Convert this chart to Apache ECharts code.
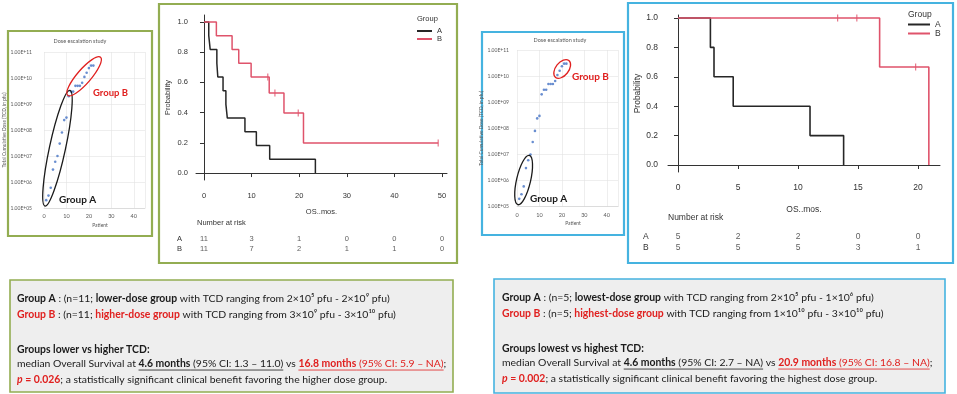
<!DOCTYPE html>
<html><head><meta charset="utf-8">
<script src="https://cdn.jsdelivr.net/npm/echarts@6/dist/echarts.min.js"></script>
<style>html,body{margin:0;padding:0;background:#fff}#c{width:957px;height:394px}</style>
</head><body><div id="c"></div>
<script>
// ================= DATA =================
const patients = [1,2,3,4,5,6,7,8,9,10,11,12,13,14,15,16,17,18,19,20,21,22];
const doseTCD = [2e5,3e5,6e5,3e6,6e6,1e7,3e7,8e7,2.4e8,3e8,2e9,3e9,3e9,5e9,5e9,5e9,6.5e9,1.1e10,1.6e10,2.4e10,3e10,3e10];
const doseExpTicks = [5,6,7,8,9,10,11];
const patientTicks = [0,10,20,30,40];
// patient ranges of the circled groups
const groupLeftA = [1,11], groupLeftB = [12,22];
const groupRightA = [1,5], groupRightB = [18,22];

// Left Kaplan-Meier (lower vs higher TCD)
const kmLeftTimesA = [0,1.0,1.3,2.7,2.9,4.0,4.6,4.9,8.6,11.0,13.8,23.4];
const kmLeftSurvA  = [1,0.909,0.818,0.727,0.636,0.545,0.455,0.364,0.273,0.182,0.091,0];
const kmLeftTimesB = [0,2.6,5.9,7.3,9.9,13.7,16.8,20.9,49.2];
const kmLeftSurvB  = [1,0.909,0.818,0.727,0.636,0.530,0.398,0.199,0.199];
const kmLeftCensTimesB = [13.4,14.9,19.8,49.2];
const kmLeftCensSurvB  = [0.636,0.530,0.398,0.199];
const riskLeftTimes = [0,10,20,30,40,50];
const riskLeftA = [11,3,1,0,0,0];
const riskLeftB = [11,7,2,1,1,0];

// Right Kaplan-Meier (lowest vs highest TCD)
const kmRightTimesA = [0,2.7,3.0,4.6,11.0,13.8];
const kmRightSurvA  = [1,0.8,0.6,0.4,0.2,0];
const kmRightTimesB = [0,16.8,20.9];
const kmRightSurvB  = [1,0.667,0];
const kmRightCensTimesB = [13.3,14.9,19.8];
const kmRightCensSurvB  = [1,1,0.667];
const riskRightTimes = [0,5,10,15,20];
const riskRightA = [5,2,2,0,0];
const riskRightB = [5,5,5,3,1];

const probTicks = [0,0.2,0.4,0.6,0.8,1.0];
const groupNames = ['A','B'];

// text boxes: [text, codes] b=bold r=red u=underline i=italic
const textLeft = [
  [['Group A','b'],[' : (n=11; ',''],['lower-dose group','b'],[' with TCD ranging from 2×10⁵ pfu - 2×10⁹ pfu)','']],
  [['Group B','br'],[' : (n=11; ',''],['higher-dose group','br'],[' with TCD ranging from 3×10⁹ pfu - 3×10¹⁰ pfu)','']],
  [['Groups lower vs higher TCD:','b']],
  [['median Overall Survival at ',''],['4.6 months','bu'],[' (95% CI: 1.3 – 11.0)','u'],[' vs ',''],['16.8 months','bru'],[' (95% CI: 5.9 – NA)','ru'],[';','']],
  [['p','bri'],[' = 0.026','br'],['; a statistically significant clinical benefit favoring the higher dose group.','']]
];
const textRight = [
  [['Group A','b'],[' : (n=5; ',''],['lowest-dose group','b'],[' with TCD ranging from 2×10⁵ pfu - 1×10⁶ pfu)','']],
  [['Group B','br'],[' : (n=5; ',''],['highest-dose group','br'],[' with TCD ranging from 1×10¹⁰ pfu - 3×10¹⁰ pfu)','']],
  [['Groups lowest vs highest TCD:','b']],
  [['median Overall Survival at ',''],['4.6 months','bu'],[' (95% CI: 2.7 – NA)','u'],[' vs ',''],['20.9 months','bru'],[' (95% CI: 16.8 – NA)','ru'],[';','']],
  [['p','bri'],[' = 0.002','br'],['; a statistically significant clinical benefit favoring the highest dose group.','']]
];

// ================= STYLE / BUILD =================
const FONT_R = "'Liberation Sans', Arial, sans-serif";
const FONT_C = "Lato, 'Open Sans', sans-serif";
const BLACK = '#262626', RED = '#DF536B', AX = '#333333';
const GREEN = '#93ad52', BLUE = '#45b3e0';
const TXT = '#1a1a1a', TRED = '#e0201f';
const XL = '#595959';

const chart = echarts.init(document.getElementById('c'));
const kmData = (t, s) => t.map((v, i) => [v, s[i]]);
const lg = v => Math.log10(v);

function ellipseSeries(xi, yi, ranges, colors, pads, halfW) {
  return {
    type: 'custom', xAxisIndex: xi, yAxisIndex: yi, clip: false, silent: true, z: 3,
    data: ranges.map(r => [r[0], r[1]]),
    renderItem: function (params, api) {
      const i = params.dataIndex;
      const a = api.value(0), b = api.value(1);
      const p0 = api.coord([a, lg(doseTCD[a - 1])]);
      const p1 = api.coord([b, lg(doseTCD[b - 1])]);
      const dx = p1[0] - p0[0], dy = p1[1] - p0[1];
      const len = Math.sqrt(dx * dx + dy * dy);
      const ux = dx / len, uy = dy / len;
      const s = [p0[0] - ux * pads[i][0], p0[1] - uy * pads[i][0]];
      const e = [p1[0] + ux * pads[i][1], p1[1] + uy * pads[i][1]];
      const cx = (s[0] + e[0]) / 2, cy = (s[1] + e[1]) / 2;
      const rx = (len + pads[i][0] + pads[i][1]) / 2;
      return {
        type: 'ellipse', x: cx, y: cy, rotation: -Math.atan2(dy, dx),
        shape: { cx: 0, cy: 0, rx: rx, ry: halfW[i] },
        style: { fill: 'none', stroke: colors[i], lineWidth: 1.3 }
      };
    }
  };
}

function scatterAxes(gi, labelMargin, yLabelMargin, nameGap) {
  const x = {
    gridIndex: gi, type: 'value', min: 0, max: 45, interval: 10,
    axisLabel: { fontSize: 5.5, color: XL, margin: labelMargin, fontFamily: FONT_C, showMaxLabel: false,
      formatter: v => (patientTicks.indexOf(v) >= 0 ? String(v) : '') },
    axisLine: { lineStyle: { color: '#d0d0d0', width: 0.6 } }, axisTick: { show: false },
    splitLine: { lineStyle: { color: '#e2e2e2', width: 0.6 } }
  };
  const y = {
    gridIndex: gi, type: 'value', min: doseExpTicks[0], max: doseExpTicks[doseExpTicks.length - 1], interval: 1,
    axisLabel: { fontSize: 5, color: XL, margin: yLabelMargin, fontFamily: FONT_C,
      formatter: v => '1.00E+' + String(v).padStart(2, '0') },
    axisLine: { show: false }, axisTick: { show: false },
    splitLine: { lineStyle: { color: '#e2e2e2', width: 0.6 } },
    name: 'Total Cumulative Dose (TCD, in pfu)', nameLocation: 'middle', nameGap: nameGap,
    nameTextStyle: { fontSize: 4.8, color: XL, fontFamily: FONT_C }
  };
  return [x, y];
}

function kmAxes(gi, xmin, xmax, xticks, ymin, ymax, fs, xMargin, yMargin, xNameGap, yNameGap) {
  const x = {
    gridIndex: gi, type: 'value', min: xmin, max: xmax,
    axisLine: { lineStyle: { color: AX, width: 1 } },
    axisTick: { length: 4, customValues: xticks, lineStyle: { color: AX } },
    axisLabel: { customValues: xticks, fontSize: fs, margin: xMargin, color: AX, fontFamily: FONT_R },
    splitLine: { show: false },
    name: 'OS..mos.', nameLocation: 'middle', nameGap: xNameGap,
    nameTextStyle: { fontSize: fs, color: AX, fontFamily: FONT_R }
  };
  const y = {
    gridIndex: gi, type: 'value', min: ymin, max: ymax,
    axisLine: { show: true, lineStyle: { color: AX, width: 1 } },
    axisTick: { show: true, length: 4, customValues: probTicks, lineStyle: { color: AX } },
    axisLabel: { customValues: probTicks, fontSize: fs, margin: yMargin, color: AX, fontFamily: FONT_R,
      formatter: v => v.toFixed(1) },
    splitLine: { show: false },
    name: 'Probability', nameLocation: 'middle', nameGap: yNameGap,
    nameTextStyle: { fontSize: fs, color: AX, fontFamily: FONT_R }
  };
  return [x, y];
}

function riskAxes(gi, xmin, xmax, fs, margin) {
  return [
    { gridIndex: gi, type: 'value', min: xmin, max: xmax, show: false },
    { gridIndex: gi, type: 'category', data: groupNames, inverse: true,
      axisLine: { show: false }, axisTick: { show: false }, splitLine: { show: false },
      axisLabel: { interval: 0, hideOverlap: false, align: 'left', margin: margin, fontSize: fs, color: AX, fontFamily: FONT_R } }
  ];
}

function riskSeries(gi, times, vals, name, fs) {
  return {
    type: 'scatter', name: 'risk ' + name, xAxisIndex: gi, yAxisIndex: gi, silent: true,
    symbolSize: 1, itemStyle: { color: 'rgba(0,0,0,0)' },
    data: times.map((t, i) => [t, name, vals[i]]),
    label: { show: true, position: 'inside', formatter: p => String(p.value[2]),
      fontSize: fs, color: AX, fontFamily: FONT_R }
  };
}

const axL0 = scatterAxes(0, 5, 12, 21);
const axL1 = kmAxes(1, -1.68, 51.05, riskLeftTimes, -0.046, 1.046, 7.5, 12, 8, 28, 24);
const axL2 = riskAxes(2, -1.68, 51.05, 7.5, 19);
const axR0 = scatterAxes(3, 6, 8, 24);
const axR1 = kmAxes(4, -0.833, 21.83, riskRightTimes, -0.0476, 1.0204, 8.5, 11.5, 10, 33, 25);
const axR2 = riskAxes(5, -0.833, 21.83, 8.5, 25);

// ---------- text boxes ----------
const mctx = document.createElement('canvas').getContext('2d');
function segFont(code, size) {
  return (code.includes('i') ? 'italic ' : '') + (code.includes('b') ? 'bold ' : '') + size + 'px ' + FONT_C;
}
function lineWidth(segs, size) {
  let w = 0;
  segs.forEach(([t, c]) => { mctx.font = segFont(c, size); w += mctx.measureText(t).width; });
  return w;
}
function buildText(lines, x0, rowYs, size) {
  const els = [];
  lines.forEach((segs, li) => {
    let x = x0; const y = rowYs[li];
    segs.forEach(([t, c]) => {
      mctx.font = segFont(c, size);
      const w = mctx.measureText(t).width;
      const col = c.includes('r') ? TRED : TXT;
      els.push({ type: 'text', x: x, y: y, z: 10, silent: true,
        style: { text: t, fill: col, fontSize: size, fontFamily: FONT_C,
          fontWeight: c.includes('b') ? 'bold' : 'normal', fontStyle: c.includes('i') ? 'italic' : 'normal',
          align: 'left', verticalAlign: 'middle', textAlign: 'left', textVerticalAlign: 'middle' } });
      if (c.includes('u')) {
        const uy = y + size * 0.58;
        els.push({ type: 'line', z: 10, silent: true, shape: { x1: x, y1: uy, x2: x + w, y2: uy },
          style: { stroke: col, lineWidth: 0.8 } });
      }
      x += w;
    });
  });
  return els;
}
const sizeL = 10 * 430 / lineWidth(textLeft[3], 10);
const sizeR = 10 * 431 / lineWidth(textRight[3], 10);

function txt(x, y, s, opt) {
  return Object.assign({ type: 'text', x: x, y: y, z: 10, silent: true,
    style: Object.assign({ text: s, align: 'left', verticalAlign: 'middle', textAlign: 'left', textVerticalAlign: 'middle' }, opt) });
}
function box(x, y, w, h, stroke, fill, lw) {
  return { type: 'rect', z: 0, silent: true, shape: { x: x, y: y, width: w, height: h },
    style: { fill: fill || 'none', stroke: stroke, lineWidth: lw } };
}

const graphics = [
  box(8, 31, 144, 205, GREEN, null, 2.2),
  box(159, 4, 298, 259, GREEN, null, 2.2),
  box(482, 32, 142, 203, BLUE, null, 2.2),
  box(628, 3, 325, 260, BLUE, null, 2.2),
  box(10, 280, 443, 112, GREEN, '#eeeeee', 1.6),
  box(494, 279, 451, 114, BLUE, '#eeeeee', 1.6),
  // scatter titles and labels
  txt(80, 41, 'Dose escalation study', { fontSize: 5.5, fill: XL, fontFamily: FONT_C, align: 'center', textAlign: 'center' }),
  txt(560, 40, 'Dose escalation study', { fontSize: 5.5, fill: XL, fontFamily: FONT_C, align: 'center', textAlign: 'center' }),
  txt(100, 225, 'Patient', { fontSize: 5, fill: XL, fontFamily: FONT_C, align: 'center', textAlign: 'center' }),
  txt(573, 223, 'Patient', { fontSize: 5, fill: XL, fontFamily: FONT_C, align: 'center', textAlign: 'center' }),
  txt(93, 93, 'Group B', { fontSize: 9.5, fill: '#e0201f', fontWeight: 'bold', fontFamily: FONT_C }),
  txt(59, 200, 'Group A', { fontSize: 10, fill: '#1a1a1a', fontWeight: 'bold', fontFamily: FONT_C }),
  txt(572, 77, 'Group B', { fontSize: 10, fill: '#e0201f', fontWeight: 'bold', fontFamily: FONT_C }),
  txt(530, 199, 'Group A', { fontSize: 10, fill: '#1a1a1a', fontWeight: 'bold', fontFamily: FONT_C }),
  // KM legend titles and risk titles
  txt(417, 19, 'Group', { fontSize: 7.5, fill: AX, fontFamily: FONT_R }),
  txt(908, 15, 'Group', { fontSize: 8.5, fill: AX, fontFamily: FONT_R }),
  txt(197, 223, 'Number at risk', { fontSize: 7.5, fill: AX, fontFamily: FONT_R }),
  txt(668, 218, 'Number at risk', { fontSize: 8.5, fill: AX, fontFamily: FONT_R })
].concat(buildText(textLeft, 17, [299, 315, 350, 364, 380], sizeL))
 .concat(buildText(textRight, 502, [298, 314, 349, 363, 379], sizeR));

const option = {
  animation: false,
  backgroundColor: '#ffffff',
  grid: [
    { left: 44, right: 957 - 145, top: 52, bottom: 394 - 208 },
    { left: 196, right: 957 - 447, top: 15, bottom: 394 - 180 },
    { left: 196, right: 957 - 447, top: 234, bottom: 140 },
    { left: 517, right: 957 - 618, top: 50, bottom: 394 - 206.7 },
    { left: 668, right: 957 - 940, top: 15, bottom: 394 - 172 },
    { left: 668, right: 957 - 940, top: 231.5, bottom: 140.5 }
  ],
  xAxis: [axL0[0], axL1[0], axL2[0], axR0[0], axR1[0], axR2[0]],
  yAxis: [axL0[1], axL1[1], axL2[1], axR0[1], axR1[1], axR2[1]],
  legend: [
    { data: groupNames, orient: 'vertical', left: 417, top: 27, itemWidth: 15, itemHeight: 2, itemGap: 0,
      padding: 0, icon: 'rect', selectedMode: false,
      textStyle: { fontSize: 7.5, lineHeight: 6, color: AX, fontFamily: FONT_R } },
    { data: groupNames, orient: 'vertical', left: 908, top: 20, itemWidth: 22, itemHeight: 2, itemGap: 0,
      padding: 0, icon: 'rect', selectedMode: false,
      textStyle: { fontSize: 8.5, lineHeight: 8, color: AX, fontFamily: FONT_R } }
  ],
  graphic: { elements: graphics },
  series: [
    // left scatter
    { type: 'scatter', name: 'dose L', xAxisIndex: 0, yAxisIndex: 0, symbolSize: 2.6, silent: true,
      itemStyle: { color: '#4472c4' }, data: patients.map((p, i) => [p, lg(doseTCD[i])]) },
    ellipseSeries(0, 0, [groupLeftA, groupLeftB], ['#1a1a1a', '#e0201f'], [[6, 6], [5, 11]], [8, 7]),
    // right scatter
    { type: 'scatter', name: 'dose R', xAxisIndex: 3, yAxisIndex: 3, symbolSize: 2.6, silent: true,
      itemStyle: { color: '#4472c4' }, data: patients.map((p, i) => [p, lg(doseTCD[i])]) },
    ellipseSeries(3, 3, [groupRightA, groupRightB], ['#1a1a1a', '#e0201f'], [[6, 5], [3, 4]], [7, 6.5]),
    // left KM
    { type: 'line', name: 'A', xAxisIndex: 1, yAxisIndex: 1, step: 'end', showSymbol: false, silent: true,
      data: kmData(kmLeftTimesA, kmLeftSurvA), lineStyle: { color: BLACK, width: 1.5 }, itemStyle: { color: BLACK } },
    { type: 'line', name: 'B', xAxisIndex: 1, yAxisIndex: 1, step: 'end', showSymbol: false, silent: true,
      data: kmData(kmLeftTimesB, kmLeftSurvB), lineStyle: { color: RED, width: 1.5 }, itemStyle: { color: RED } },
    { type: 'scatter', name: 'B censored', xAxisIndex: 1, yAxisIndex: 1, symbol: 'rect', symbolSize: [1.2, 7], silent: true,
      data: kmData(kmLeftCensTimesB, kmLeftCensSurvB), itemStyle: { color: RED } },
    riskSeries(2, riskLeftTimes, riskLeftA, 'A', 7.5),
    riskSeries(2, riskLeftTimes, riskLeftB, 'B', 7.5),
    // right KM
    { type: 'line', name: 'A', xAxisIndex: 4, yAxisIndex: 4, step: 'end', showSymbol: false, silent: true,
      data: kmData(kmRightTimesA, kmRightSurvA), lineStyle: { color: BLACK, width: 1.6 }, itemStyle: { color: BLACK } },
    { type: 'line', name: 'B', xAxisIndex: 4, yAxisIndex: 4, step: 'end', showSymbol: false, silent: true,
      data: kmData(kmRightTimesB, kmRightSurvB), lineStyle: { color: RED, width: 1.6 }, itemStyle: { color: RED } },
    { type: 'scatter', name: 'B censored R', xAxisIndex: 4, yAxisIndex: 4, symbol: 'rect', symbolSize: [1.2, 7], silent: true,
      data: kmData(kmRightCensTimesB, kmRightCensSurvB), itemStyle: { color: RED } },
    riskSeries(5, riskRightTimes, riskRightA, 'A', 8.5),
    riskSeries(5, riskRightTimes, riskRightB, 'B', 8.5)
  ]
};
chart.setOption(option);
</script>
</body></html>
